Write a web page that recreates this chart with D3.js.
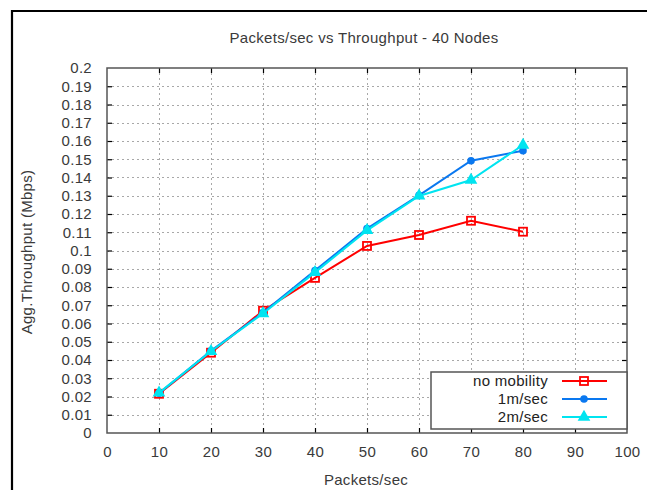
<!DOCTYPE html>
<html>
<head>
<meta charset="utf-8">
<script src="https://cdn.jsdelivr.net/npm/d3@7"></script>
<style>
  html, body { margin: 0; padding: 0; background: #fff; }
  svg { display: block; font-family: "Liberation Sans", Arial, sans-serif; }
</style>
</head>
<body>
<svg id="chart" width="647" height="490"></svg>
<script>
// Packets/sec sent per node
const packetRates = [10, 20, 30, 40, 50, 60, 70, 80];
// Aggregate throughput (Mbps) for each mobility setting
const noMobility = [0.0215, 0.0440, 0.0670, 0.0850, 0.1025, 0.1085, 0.1163, 0.1103];
const speed1 = [0.0218, 0.0450, 0.0660, 0.0890, 0.1120, 0.1302, 0.1492, 0.1547];
const speed2 = [0.0220, 0.0448, 0.0655, 0.0880, 0.1110, 0.1299, 0.1386, 0.1578];
const seriesNames = ["no mobility", "1m/sec", "2m/sec"];
const xTicks = [0, 10, 20, 30, 40, 50, 60, 70, 80, 90, 100];
const yTicks = [0, 0.01, 0.02, 0.03, 0.04, 0.05, 0.06, 0.07, 0.08, 0.09, 0.1,
                0.11, 0.12, 0.13, 0.14, 0.15, 0.16, 0.17, 0.18, 0.19, 0.2];

const svg = d3.select("#chart");
const plotL = 107, plotR = 627, plotT = 68, plotB = 433;
const x = d3.scaleLinear().domain([0, 100]).range([plotL, plotR]);
const y = d3.scaleLinear().domain([0, 0.2]).range([plotB, plotT]);
const textColor = "#3a3a3a";
const axisColor = "#555";
const fontSize = 15;
const spacing = 0.3;

// outer frame (left and top edges visible)
svg.append("path")
  .attr("d", "M12,492 L12,11 L650,11")
  .attr("fill", "none").attr("stroke", "#000").attr("stroke-width", 2.2);

// grid
const grid = svg.append("g").attr("stroke", "#a8a8a8").attr("stroke-width", 1)
  .attr("stroke-dasharray", "2,3");
grid.selectAll("line.gy").data(yTicks.slice(1, -1)).join("line")
  .attr("x1", plotL).attr("x2", plotR)
  .attr("y1", d => Math.round(y(d)) + 0.5).attr("y2", d => Math.round(y(d)) + 0.5);
grid.selectAll("line.gx").data(xTicks.slice(1, -1)).join("line")
  .attr("y1", plotT).attr("y2", plotB)
  .attr("x1", d => Math.round(x(d)) + 0.5).attr("x2", d => Math.round(x(d)) + 0.5);

// axes with inward ticks, mirrored on top/right
const tickLen = 5;
const fmtY = d => d3.format("~g")(+d.toFixed(2));
const yAxisL = d3.axisLeft(y).tickValues(yTicks).tickSize(-tickLen).tickPadding(15).tickFormat(fmtY);
const yAxisR = d3.axisRight(y).tickValues(yTicks).tickSize(-tickLen).tickFormat("");
const xAxisB = d3.axisBottom(x).tickValues(xTicks).tickSize(-tickLen).tickPadding(13).tickFormat(d3.format("d"));
const xAxisT = d3.axisTop(x).tickValues(xTicks).tickSize(-tickLen).tickFormat("");

function styleAxis(g) {
  g.select(".domain").remove();
  g.selectAll(".tick line").attr("stroke", "#000").attr("stroke-width", 1.2);
  g.selectAll(".tick text").attr("fill", textColor).attr("font-size", fontSize)
    .attr("letter-spacing", spacing)
    .attr("font-family", "Liberation Sans, Arial, sans-serif");
}
svg.append("g").attr("transform", `translate(${plotL},0)`).call(yAxisL).call(styleAxis);
svg.append("g").attr("transform", `translate(${plotR},0)`).call(yAxisR).call(styleAxis);
svg.append("g").attr("transform", `translate(0,${plotB})`).call(xAxisB).call(styleAxis);
svg.append("g").attr("transform", `translate(0,${plotT})`).call(xAxisT).call(styleAxis);
svg.selectAll(".tick line").filter(function(d){ return d === 0 || d === 100 || d === 0.2; }).remove();

// plot border
svg.append("rect").attr("x", plotL).attr("y", plotT)
  .attr("width", plotR - plotL).attr("height", plotB - plotT)
  .attr("fill", "none").attr("stroke", axisColor).attr("stroke-width", 1.5);

// titles
svg.append("text").attr("x", 364).attr("y", 43).attr("text-anchor", "middle")
  .attr("font-size", fontSize).attr("letter-spacing", spacing).attr("fill", textColor)
  .text("Packets/sec vs Throughput - 40 Nodes");
svg.append("text").attr("x", 366).attr("y", 485).attr("text-anchor", "middle")
  .attr("font-size", fontSize).attr("letter-spacing", spacing).attr("fill", textColor)
  .text("Packets/sec");
svg.append("text").attr("transform", "translate(32,252) rotate(-90)").attr("text-anchor", "middle")
  .attr("font-size", fontSize).attr("letter-spacing", spacing).attr("fill", textColor)
  .text("Agg.Throughput (Mbps)");

// series
const series = [
  { name: seriesNames[0], values: noMobility, color: "#ff0000", marker: "square" },
  { name: seriesNames[1], values: speed1, color: "#0a78f0", marker: "circle" },
  { name: seriesNames[2], values: speed2, color: "#00e4f0", marker: "triangle" }
];

function drawMarker(g, type, color) {
  if (type === "square") {
    g.append("rect").attr("x", -4).attr("y", -4).attr("width", 8).attr("height", 8)
      .attr("fill", "none").attr("stroke", color).attr("stroke-width", 1.8);
  } else if (type === "circle") {
    g.append("circle").attr("r", 3.8).attr("fill", color);
  } else {
    g.append("path").attr("d", d3.symbol().type(d3.symbolTriangle).size(70)())
      .attr("fill", color);
  }
}

const line = d3.line().x((d, i) => x(packetRates[i])).y(d => y(d));
series.forEach(s => {
  const g = svg.append("g");
  g.append("path").datum(s.values).attr("d", line)
    .attr("fill", "none").attr("stroke", s.color).attr("stroke-width", 2);
  s.values.forEach((v, i) => {
    const m = g.append("g").attr("transform", `translate(${x(packetRates[i])},${y(v)})`);
    drawMarker(m, s.marker, s.color);
  });
});

// legend
const lg = svg.append("g");
lg.append("rect").attr("x", 431).attr("y", 372).attr("width", 196).attr("height", 57)
  .attr("fill", "#fff").attr("stroke", axisColor).attr("stroke-width", 1.5);
series.forEach((s, i) => {
  const ly = 381 + i * 18;
  lg.append("text").attr("x", 548).attr("y", ly + 5).attr("text-anchor", "end")
    .attr("font-size", fontSize).attr("letter-spacing", spacing).attr("fill", "#222").text(s.name);
  lg.append("line").attr("x1", 562).attr("x2", 607).attr("y1", ly).attr("y2", ly)
    .attr("stroke", s.color).attr("stroke-width", 2);
  const m = lg.append("g").attr("transform", `translate(584,${ly})`);
  drawMarker(m, s.marker, s.color);
});
</script>
</body>
</html>
